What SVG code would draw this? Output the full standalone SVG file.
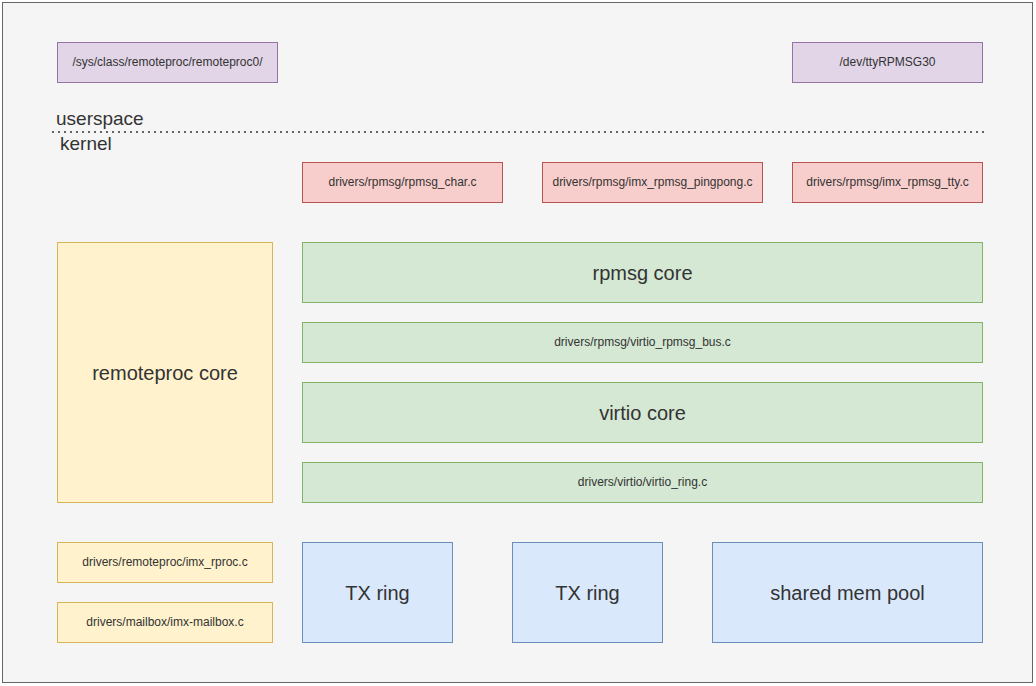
<svg xmlns="http://www.w3.org/2000/svg" width="1036" height="686" viewBox="0 0 1036 686">
<style>
text{font-family:"Liberation Sans",Arial,Helvetica,sans-serif;fill:#333;text-anchor:middle;dominant-baseline:central}
.s{font-size:12px}
.b{font-size:20px}
.p{fill:#e1d5e7;stroke:#9673a6}
.r{fill:#f8cecc;stroke:#b85450}
.g{fill:#d5e8d4;stroke:#82b366}
.y{fill:#fff2cc;stroke:#d6b656}
.bl{fill:#dae8fc;stroke:#6c8ebf}
</style>
<rect x="2.5" y="2.5" width="1030" height="680" fill="#f5f5f5" stroke="#666"/>
<g id="labels">
<text x="56" y="118" style="text-anchor:start;font-size:19px">userspace</text>
<text x="60" y="143" style="text-anchor:start;font-size:19px">kernel</text>
</g>
<g id="connectors">
<line x1="53" y1="132" x2="985" y2="132" stroke="#333" stroke-width="2" stroke-dasharray="0 6" stroke-linecap="round"/>
</g>
<g id="sysclass"><rect class="p" x="57.5" y="42.5" width="220" height="40"/><text class="s" x="167.5" y="62">/sys/class/remoteproc/remoteproc0/</text></g>
<g id="devtty"><rect class="p" x="792.5" y="42.5" width="190" height="40"/><text class="s" x="887.5" y="62">/dev/ttyRPMSG30</text></g>
<g id="rpmsgchar"><rect class="r" x="302.5" y="162.5" width="200" height="40"/><text class="s" x="402.5" y="182">drivers/rpmsg/rpmsg_char.c</text></g>
<g id="pingpong"><rect class="r" x="542.5" y="162.5" width="220" height="40"/><text class="s" x="652.5" y="182">drivers/rpmsg/imx_rpmsg_pingpong.c</text></g>
<g id="tty"><rect class="r" x="792.5" y="162.5" width="190" height="40"/><text class="s" x="887.5" y="182">drivers/rpmsg/imx_rpmsg_tty.c</text></g>
<g id="rpmsgcore"><rect class="g" x="302.5" y="242.5" width="680" height="60"/><text class="b" x="642.5" y="272.5">rpmsg core</text></g>
<g id="virtiobus"><rect class="g" x="302.5" y="322.5" width="680" height="40"/><text class="s" x="642.5" y="342">drivers/rpmsg/virtio_rpmsg_bus.c</text></g>
<g id="virtiocore"><rect class="g" x="302.5" y="382.5" width="680" height="60"/><text class="b" x="642.5" y="412.5">virtio core</text></g>
<g id="virtioring"><rect class="g" x="302.5" y="462.5" width="680" height="40"/><text class="s" x="642.5" y="482">drivers/virtio/virtio_ring.c</text></g>
<g id="remoteproc"><rect class="y" x="57.5" y="242.5" width="215" height="260"/><text class="b" x="165" y="372.5">remoteproc core</text></g>
<g id="imxrproc"><rect class="y" x="57.5" y="542.5" width="215" height="40"/><text class="s" x="165" y="562">drivers/remoteproc/imx_rproc.c</text></g>
<g id="mailbox"><rect class="y" x="57.5" y="602.5" width="215" height="40"/><text class="s" x="165" y="622">drivers/mailbox/imx-mailbox.c</text></g>
<g id="txring1"><rect class="bl" x="302.5" y="542.5" width="150" height="100"/><text class="b" x="377.5" y="592.5">TX ring</text></g>
<g id="txring2"><rect class="bl" x="512.5" y="542.5" width="150" height="100"/><text class="b" x="587.5" y="592.5">TX ring</text></g>
<g id="shmem"><rect class="bl" x="712.5" y="542.5" width="270" height="100"/><text class="b" x="847.5" y="592.5">shared mem pool</text></g>
</svg>
